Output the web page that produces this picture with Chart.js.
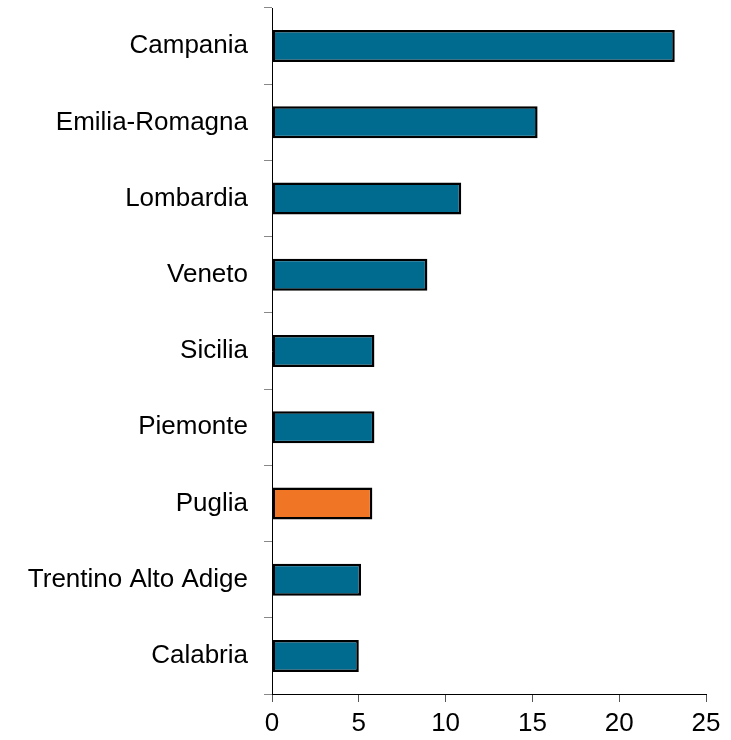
<!DOCTYPE html>
<html>
<head>
<meta charset="utf-8">
<script src="https://cdn.jsdelivr.net/npm/chart.js@4/dist/chart.umd.min.js"></script>
<style>
  html, body { margin: 0; padding: 0; background: #fff; }
  #wrap { width: 731px; height: 740px; }
</style>
</head>
<body>
<div id="wrap"><canvas id="myChart" width="731" height="740"></canvas></div>
<script>
const regions = ["Campania", "Emilia-Romagna", "Lombardia", "Veneto", "Sicilia", "Piemonte", "Puglia", "Trentino Alto Adige", "Calabria"];
const values = [23.2, 15.3, 10.9, 8.95, 5.9, 5.9, 5.78, 5.13, 5.0];
const highlight = "Puglia";

const barColors = regions.map(r => r === highlight ? '#f07524' : '#006a8f');

const ctx = document.getElementById('myChart').getContext('2d');
const myChart = new Chart(ctx, {
    type: 'bar',
    data: {
        labels: regions,
        datasets: [{
            data: values,
            backgroundColor: barColors,
            borderColor: '#000',
            borderWidth: 2.5,
            borderSkipped: false,
            barPercentage: 0.42,
            categoryPercentage: 1.0
        }]
    },
    options: {
        indexAxis: 'y',
        responsive: false,
        animation: false,
        layout: { padding: { top: 8, right: 25, left: 0, bottom: 0 } },
        plugins: {
            legend: { display: false },
            tooltip: { enabled: false }
        },
        scales: {
            x: {
                min: 0,
                max: 25,
                ticks: {
                    stepSize: 5,
                    color: '#000',
                    padding: 6,
                    maxRotation: 0,
                    font: { family: 'Liberation Sans', size: 26 }
                },
                grid: {
                    drawOnChartArea: false,
                    tickLength: 8,
                    tickColor: '#555'
                },
                border: { color: '#000', width: 1 },
                afterFit: s => { s.height = 46; s.paddingLeft = 0; s.paddingRight = 0; }
            },
            y: {
                ticks: {
                    color: '#000',
                    padding: 16,
                    font: { family: 'Liberation Sans', size: 26 }
                },
                grid: {
                    drawOnChartArea: false,
                    tickLength: 8,
                    tickColor: '#888',
                    offset: true
                },
                border: { color: '#000', width: 1 },
                afterFit: s => { s.width = 272; s.paddingTop = 0; s.paddingBottom = 0; }
            }
        }
    }
});
</script>
</body>
</html>
